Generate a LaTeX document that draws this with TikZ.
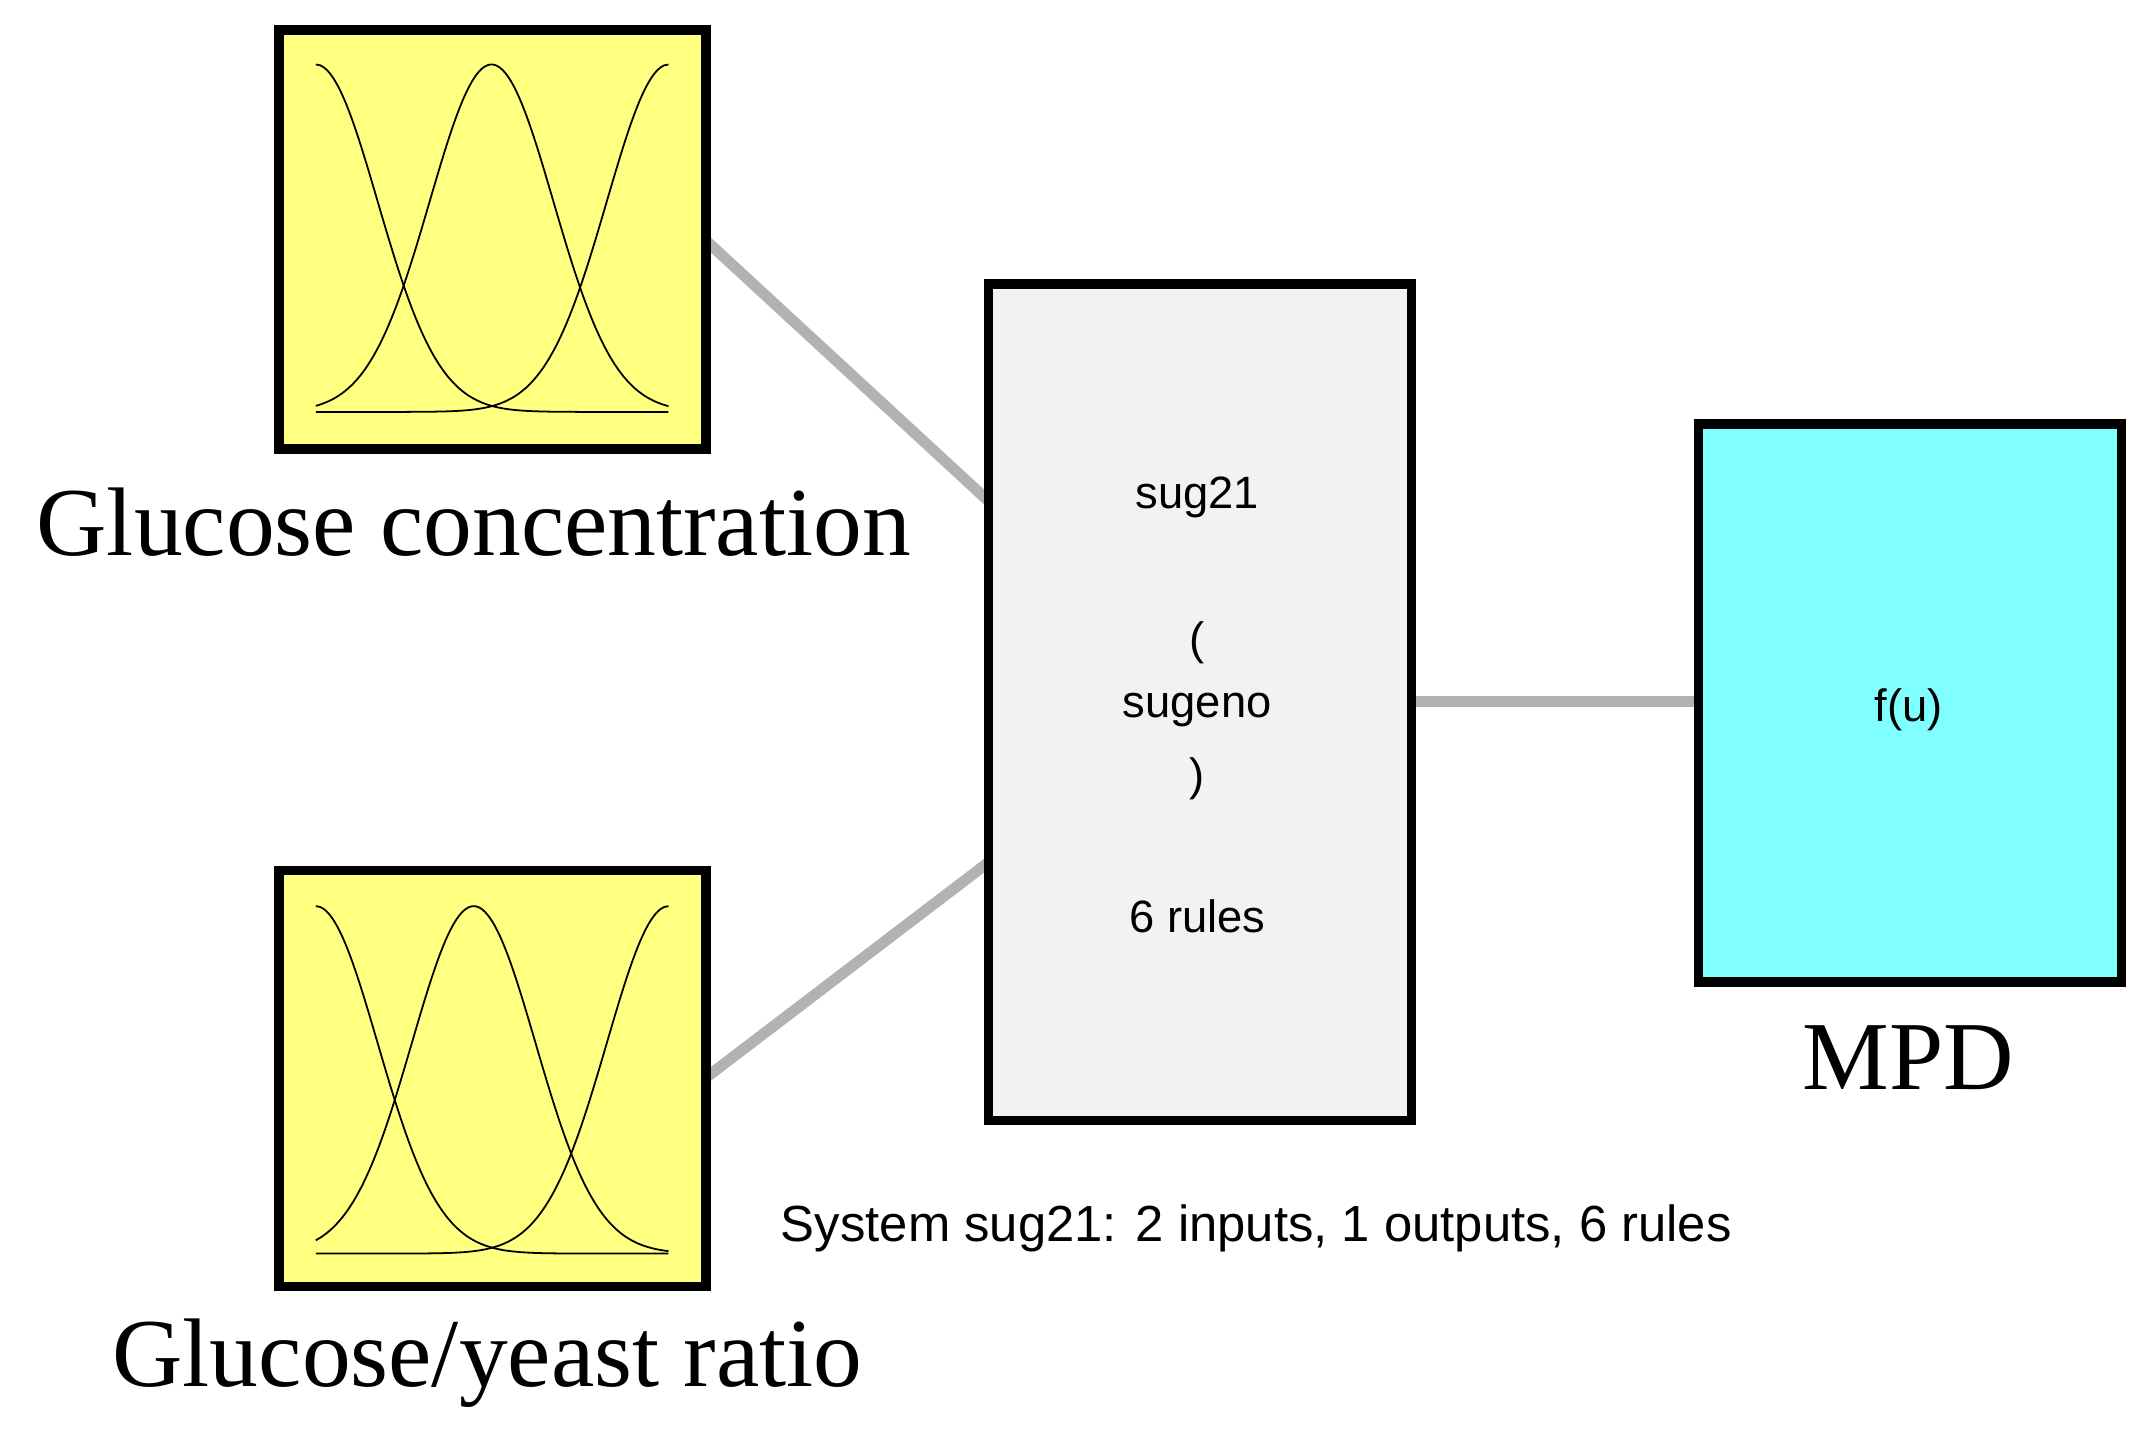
\documentclass[tikz,border=0pt]{standalone}
\usepackage{fontspec}
\setmainfont{Liberation Serif}
\newfontfamily\sansf{Liberation Sans}
\begin{document}
\begin{tikzpicture}[x=1pt,y=-1pt,
 blk/.style={draw=black,line width=7pt},
 wire/.style={draw=black!30,line width=8pt},
 big/.style={font=\fontsize{71}{76}\selectfont},
 sm/.style={font=\sansf\fontsize{33}{36}\selectfont},
 mf/.style={line width=1.3pt,samples=80,smooth}]
\useasboundingbox (0,0) rectangle (1563,1050);
\draw[wire] (514,175) -- (720,365);
\draw[wire] (514,785) -- (720,628);
\draw[wire] (1028,511) -- (1237,511);
\draw[blk,fill={rgb,255:red,255;green,255;blue,128}] (203,22) rectangle (514,327);
\draw[blk,fill={rgb,255:red,255;green,255;blue,128}] (203,634) rectangle (514,937);
\draw[blk,fill={rgb,255:red,242;green,242;blue,242}] (720,207) rectangle (1028,816);
\draw[blk,fill={rgb,255:red,128;green,255;blue,255}] (1237,309) rectangle (1545,715);
\foreach \c in {2.30,3.58,4.87}{
 \draw[mf] plot[domain=2.30:4.87] ({100*\x},{300-253*exp(-((\x-\c)^2)/(2*0.45^2))});}
\foreach \c in {2.30,3.45,4.87}{
 \draw[mf] plot[domain=2.30:4.87] ({100*\x},{913-253*exp(-((\x-\c)^2)/(2*0.45^2))});}
\node[big] (l1) at (345,380) {Glucose concentration};
\node[big] (l2) at (355,993) {Glucose/yeast ratio};
\node[big] (l3) at (1390,770) {MPD};
\node[sm] (t1) at (872,362) {sug21};
\node[sm] (t2) at (872,468) {(};
\node[sm] (t3) at (872,517) {sugeno};
\node[sm] (t4) at (872,567) {)};
\node[sm] (t5) at (872,667) {6 rules};
\node[sm] (t6) at (1390,517) {f(u)};
\node[sm,font=\sansf\fontsize{37}{40}\selectfont] (t7) at (915,895) {System sug21: 2 inputs, 1 outputs, 6 rules};
\end{tikzpicture}
\end{document}
